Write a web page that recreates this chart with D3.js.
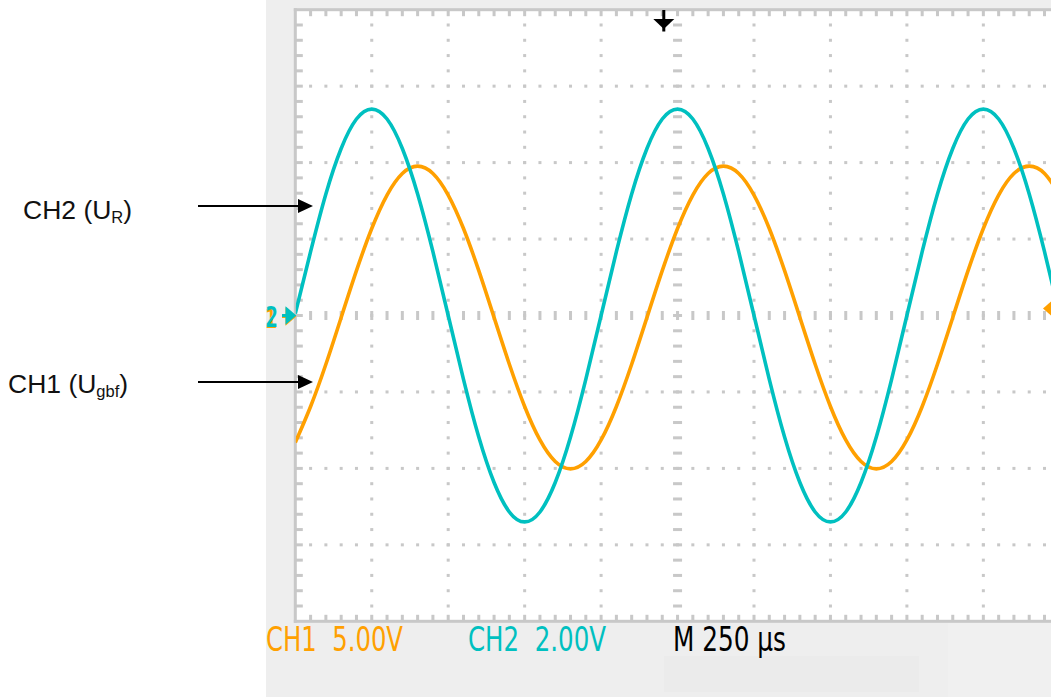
<!DOCTYPE html>
<html><head><meta charset="utf-8">
<script src="https://cdn.jsdelivr.net/npm/d3@7/dist/d3.min.js"></script>
<style>html,body{margin:0;padding:0;background:#fff;}svg{display:block}</style>
</head><body>
<svg id="c" width="1051" height="697"></svg>
<script>
// ---- data (read from the screen) ----
// sample times in microseconds, one per minor division (50 us), trigger at 0
const sampleTimes = d3.range(-1250, 1251, 50);
// CH2 (U_R) in volts, 2.00 V/div
const ch2Volts = [
  0.05, 1.67, 3.18, 4.37, 5.14, 5.40, 5.14, 4.37, 3.18, 1.67,
  0.00, -1.67, -3.18, -4.37, -5.14, -5.40, -5.14, -4.37, -3.18, -1.67,
  0.00, 1.67, 3.18, 4.37, 5.14, 5.40, 5.14, 4.37, 3.18, 1.67,
  0.00, -1.67, -3.18, -4.37, -5.14, -5.40, -5.14, -4.37, -3.18, -1.67,
  0.00, 1.67, 3.18, 4.37, 5.14, 5.40, 5.14, 4.37, 3.18, 1.67, 0.00
];
// CH1 (U_gbf) in volts, 5.00 V/div
const ch1Volts = [
  -8.30, -5.95, -3.19, -0.13, 2.93, 5.69, 7.88, 9.29, 9.77, 9.29,
  7.88, 5.69, 2.93, -0.13, -3.19, -5.95, -8.14, -9.55, -10.03, -9.55,
  -8.14, -5.95, -3.19, -0.13, 2.93, 5.69, 7.88, 9.29, 9.77, 9.29,
  7.88, 5.69, 2.93, -0.13, -3.19, -5.95, -8.14, -9.55, -10.03, -9.55,
  -8.14, -5.95, -3.19, -0.13, 2.93, 5.69, 7.88, 9.29, 9.77, 9.29, 7.88
];
const voltsPerDiv = {ch1: 5, ch2: 2};
const usPerDiv = 250;
const statusTexts = ["CH1  5.00V", "CH2  2.00V", "M 250 \u00b5s"];
const channelLabels = [
  {main: "CH2 (U", sub: "R", end: ")"},
  {main: "CH1 (U", sub: "gbf", end: ")"}
];

// ---- layout ----
const ORANGE = "#ffa000", CYAN = "#00c0c0", GRID = "#c8c8c8";
const L = 295.3, T = 9.7, B = 621.3, DIV = 76.45;
const R = L + 10 * DIV;
const svg = d3.select("#c");

const xDiv = d3.scaleLinear().domain([0, 10]).range([L, R]);
const yDiv = d3.scaleLinear().domain([0, 8]).range([T, B]);
const xT = d3.scaleLinear().domain([-5 * usPerDiv, 5 * usPerDiv]).range([L, R]);
const y2 = d3.scaleLinear().domain([-4 * voltsPerDiv.ch2, 4 * voltsPerDiv.ch2]).range([B, T]);
const y1 = d3.scaleLinear().domain([-4 * voltsPerDiv.ch1, 4 * voltsPerDiv.ch1]).range([B, T]);

// backgrounds
svg.append("rect").attr("x", 266).attr("y", 0).attr("width", 785).attr("height", 697).attr("fill", "#eeeeee");
svg.append("rect").attr("x", 664).attr("y", 656).attr("width", 255).attr("height", 36).attr("fill", "#ebebeb");
svg.append("rect").attr("x", 948).attr("y", 623).attr("width", 103).attr("height", 74).attr("fill", "#f0f0f0");
svg.append("rect").attr("x", L).attr("y", T).attr("width", 1051 - L).attr("height", B - T).attr("fill", "#ffffff");

const g = svg.append("g");
const minor = d3.range(1, 50).map(d => d / 5);      // along x (0..10)
const minorY = d3.range(1, 40).map(d => d / 5);     // along y (0..8)

// dotted vertical grid lines
[1, 2, 3, 4, 6, 7, 8, 9].forEach(k => {
  g.selectAll(null).data(minorY).enter().append("rect")
    .attr("x", xDiv(k) - 1.5).attr("y", d => yDiv(d) - 1.5)
    .attr("width", 3).attr("height", 3).attr("fill", GRID);
});
// dotted horizontal grid lines
[1, 2, 3, 5, 6, 7].forEach(k => {
  g.selectAll(null).data(minor).enter().append("rect")
    .attr("x", d => xDiv(d) - 1.5).attr("y", yDiv(k) - 1.5)
    .attr("width", 3).attr("height", 3).attr("fill", GRID);
});
// centre cross with longer ticks
g.selectAll(null).data(minorY).enter().append("rect")
  .attr("x", xDiv(5) - 4.5).attr("y", d => yDiv(d) - 1.5)
  .attr("width", 9).attr("height", 3).attr("fill", GRID);
g.selectAll(null).data(minor).enter().append("rect")
  .attr("x", d => xDiv(d) - 1.5).attr("y", yDiv(4) - 4.5)
  .attr("width", 3).attr("height", 9).attr("fill", GRID);
// border ticks
g.selectAll(null).data(minor).enter().append("rect")
  .attr("x", d => xDiv(d) - 1.5).attr("y", T).attr("width", 3).attr("height", 6.5).attr("fill", GRID);
g.selectAll(null).data(minor).enter().append("rect")
  .attr("x", d => xDiv(d) - 1.5).attr("y", B - 6.5).attr("width", 3).attr("height", 6.5).attr("fill", GRID);
g.selectAll(null).data(minorY).enter().append("rect")
  .attr("x", L).attr("y", d => yDiv(d) - 1.5).attr("width", 7.5).attr("height", 3).attr("fill", GRID);
// border
g.append("rect").attr("x", L - 1.5).attr("y", T - 1.5).attr("width", 3).attr("height", B - T + 3).attr("fill", GRID);
g.append("rect").attr("x", L - 1.5).attr("y", T - 1.5).attr("width", 1051 - L + 1.5).attr("height", 3).attr("fill", GRID);
g.append("rect").attr("x", L - 1.5).attr("y", B - 1.5).attr("width", 1051 - L + 1.5).attr("height", 3).attr("fill", GRID);

// clip
svg.append("clipPath").attr("id", "plot").append("rect")
  .attr("x", L + 0.5).attr("y", T + 1.5).attr("width", 1051 - L).attr("height", B - T - 3);

const line1 = d3.line().x((d, i) => xT(sampleTimes[i])).y(d => y1(d)).curve(d3.curveNatural);
const line2 = d3.line().x((d, i) => xT(sampleTimes[i])).y(d => y2(d)).curve(d3.curveNatural);
const waves = svg.append("g").attr("clip-path", "url(#plot)");
waves.append("path").attr("d", line1(ch1Volts)).attr("fill", "none")
  .attr("stroke", ORANGE).attr("stroke-width", 3.6);
waves.append("path").attr("d", line2(ch2Volts)).attr("fill", "none")
  .attr("stroke", CYAN).attr("stroke-width", 3.6);

// ground markers (left)
const g1y = y1(0), g2y = y2(0);
svg.append("text").attr("x", 265).attr("y", g1y + 12).text("1")
  .attr("font-family", "DejaVu Sans Mono").attr("font-size", 27).attr("font-weight", "bold")
  .attr("textLength", 12).attr("lengthAdjust", "spacingAndGlyphs").attr("fill", ORANGE);
svg.append("path").attr("d", `M282,${g1y + 1}H288M287,${g1y - 5}L294,${g1y + 1}L287,${g1y + 7}Z`)
  .attr("stroke", ORANGE).attr("stroke-width", 3).attr("fill", ORANGE);
svg.append("text").attr("x", 265.5).attr("y", g2y + 11).text("2")
  .attr("font-family", "DejaVu Sans Mono").attr("font-size", 28).attr("font-weight", "bold")
  .attr("textLength", 12.5).attr("lengthAdjust", "spacingAndGlyphs").attr("fill", CYAN);
svg.append("path").attr("d", `M282,${g2y}H288M287,${g2y - 6}L294,${g2y}L287,${g2y + 6}Z`)
  .attr("stroke", CYAN).attr("stroke-width", 3).attr("fill", CYAN);

// trigger level marker (right)
const trigY = y1(0.45);
svg.append("path").attr("d", `M1043,${trigY}L1051,${trigY - 7}L1051,${trigY + 7}Z`).attr("fill", ORANGE);

// trigger position marker (top)
const tx = xT(-45);
svg.append("rect").attr("x", tx - 1.5).attr("y", 10).attr("width", 3).attr("height", 21.5).attr("fill", "#000");
svg.append("path").attr("d", `M${tx - 10.5},19L${tx + 10.5},19L${tx},29Z`).attr("fill", "#000");

// status line
const stCfg = [{x: 266, w: 137, c: ORANGE}, {x: 468, w: 138, c: CYAN}, {x: 673, w: 113, c: "#000"}];
statusTexts.forEach((t, i) => {
  svg.append("text").attr("x", stCfg[i].x).attr("y", 651).text(t)
    .attr("font-family", "Liberation Sans Narrow, DejaVu Sans Condensed, Liberation Sans, sans-serif")
    .attr("font-size", 33).attr("fill", stCfg[i].c)
    .attr("textLength", stCfg[i].w).attr("lengthAdjust", "spacingAndGlyphs")
    .style("white-space", "pre");
});

// channel labels with arrows
const labCfg = [{x: 23, y: 219, ay: 206}, {x: 8, y: 393, ay: 382}];
channelLabels.forEach((lab, i) => {
  const t = svg.append("text").attr("x", labCfg[i].x).attr("y", labCfg[i].y)
    .attr("font-family", "Liberation Sans, Arial, sans-serif").attr("font-size", 26.5).attr("fill", "#111");
  t.append("tspan").text(lab.main);
  t.append("tspan").text(lab.sub).attr("font-size", 16.5).attr("dy", 4);
  t.append("tspan").text(lab.end).attr("dy", -4);
  const ay = labCfg[i].ay;
  svg.append("line").attr("x1", 198).attr("x2", 302).attr("y1", ay).attr("y2", ay)
    .attr("stroke", "#000").attr("stroke-width", 2);
  svg.append("path").attr("d", `M298,${ay - 7}L313,${ay}L298,${ay + 7}Z`).attr("fill", "#000");
});
</script>
</body></html>
